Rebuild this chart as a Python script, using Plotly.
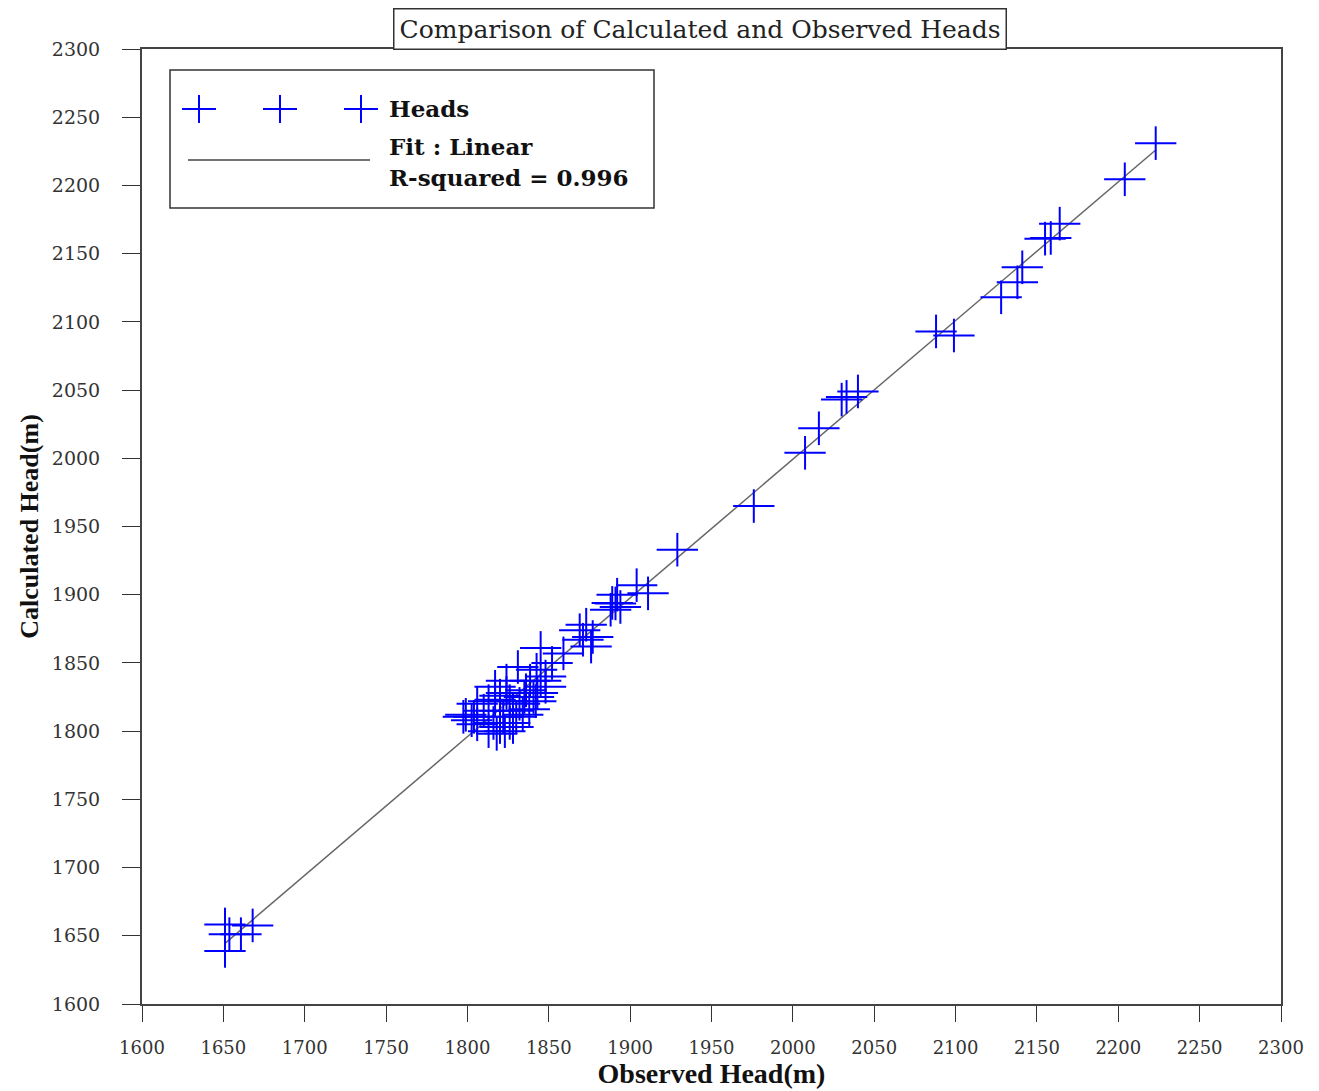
import numpy as np
import plotly.graph_objects as go

# Observed vs calculated heads (m)
observed = [
    2223, 2204, 2164, 2155, 2158.5, 2141, 2138, 2128, 2088, 2099,
    2040, 2033, 2030, 2016, 2007.5, 1976, 1929,
    1911, 1904, 1892, 1889, 1888, 1894, 1891,
    1873, 1877, 1871, 1869, 1876, 1859, 1852, 1845, 1842.5, 1845, 1848,
    1831, 1838.5, 1840.6,
    1824, 1824, 1817, 1817, 1820, 1822, 1828, 1832, 1835, 1830, 1826,
    1820, 1816, 1810, 1806, 1804, 1797.5, 1799, 1802.6,
    1806, 1813, 1818, 1823, 1828, 1834, 1838, 1843, 1842, 1813, 1820, 1826, 1836, 1848,
    1651, 1651, 1653.7, 1660.8, 1668,
]
calculated = [
    2231, 2204.5, 2172, 2161, 2161.5, 2140, 2129, 2118, 2093, 2090,
    2049, 2045, 2043, 2022, 2004, 1965, 1933,
    1901, 1907, 1900, 1894, 1889, 1891, 1893.6,
    1878, 1869, 1867, 1874, 1862, 1857, 1850, 1861, 1845, 1837, 1832.5,
    1847, 1837, 1825,
    1837, 1828, 1832.5, 1823, 1815, 1810.5, 1815, 1820, 1825, 1810.5, 1806,
    1803, 1806, 1815, 1820, 1810.5, 1810.5, 1812, 1808,
    1805, 1800, 1798, 1800, 1803, 1812, 1816, 1828, 1822, 1822, 1826, 1822, 1830, 1840,
    1658.3, 1638.9, 1651.2, 1651.2, 1657.6,
]

tick_vals = list(range(1600, 2301, 50))
title_text = "Comparison of Calculated and Observed Heads"
x_title = "Observed Head(m)"
y_title = "Calculated Head(m)"
legend_series = "Heads"
legend_fit = "Fit : Linear"
legend_r2 = "R-squared = 0.996"

obs = np.array(observed)
cal = np.array(calculated)
slope, intercept = np.polyfit(obs, cal, 1)
fit_x = np.array([obs.min(), obs.max()])
fit_y = slope * fit_x + intercept

BLUE = "#0000ff"
fig = go.Figure()
fig.add_trace(go.Scatter(x=fit_x, y=fit_y, mode="lines",
                         line=dict(color="#666666", width=1.5), showlegend=False))
fig.add_trace(go.Scatter(x=observed, y=calculated, mode="markers",
                         marker=dict(symbol="line-ew", size=29.5,
                                     line=dict(color=BLUE, width=2)),
                         showlegend=False))
fig.add_trace(go.Scatter(x=observed, y=calculated, mode="markers",
                         marker=dict(symbol="line-ns", size=24,
                                     line=dict(color=BLUE, width=2)),
                         showlegend=False))

axis_common = dict(
    range=[1600, 2300], tickvals=tick_vals, ticks="outside",
    showgrid=False, zeroline=False, showline=True, mirror=True,
    linecolor="#444444", linewidth=2, tickcolor="#333333",
    automargin=False,
)
fig.update_xaxes(**axis_common, ticklen=16, ticklabelstandoff=10,
                 tickfont=dict(family="DejaVu Serif", size=18, color="#333333"),
                 title=dict(text=f"<b>{x_title}</b>", standoff=4,
                            font=dict(family="Liberation Serif", size=28, color="#111111")))
fig.update_yaxes(**axis_common, ticklen=18, ticklabelstandoff=18,
                 tickfont=dict(family="DejaVu Serif", size=19, color="#333333"),
                 title=dict(text=f"<b>{y_title}</b>", standoff=6,
                            font=dict(family="Liberation Serif", size=26, color="#111111")))

# Manual legend box (paper coordinates)
W, H = 1139.0, 955.0
def px(xp):
    return (xp - 142) / W
def py(yp):
    return (1004 - yp) / H

shapes = [dict(type="rect", xref="paper", yref="paper",
               x0=px(170), x1=px(654), y0=py(208), y1=py(70),
               line=dict(color="#333333", width=1.5), fillcolor="white", layer="above")]
for cx in (199, 280, 361):
    shapes.append(dict(type="line", xref="paper", yref="paper",
                       x0=px(cx - 17), x1=px(cx + 17), y0=py(109), y1=py(109),
                       line=dict(color=BLUE, width=2), layer="above"))
    shapes.append(dict(type="line", xref="paper", yref="paper",
                       x0=px(cx), x1=px(cx), y0=py(95), y1=py(123),
                       line=dict(color=BLUE, width=2), layer="above"))
shapes.append(dict(type="line", xref="paper", yref="paper",
                   x0=px(188), x1=px(370), y0=py(160), y1=py(160),
                   line=dict(color="#444444", width=1.5), layer="above"))

leg_font = dict(family="DejaVu Serif", size=23, color="#111111")
annotations = [
    dict(text=f"<b>{legend_series}</b>", xref="paper", yref="paper",
         x=px(387), y=py(109), xanchor="left", yanchor="middle", showarrow=False, font=leg_font),
    dict(text=f"<b>{legend_fit}</b>", xref="paper", yref="paper",
         x=px(387), y=py(147), xanchor="left", yanchor="middle", showarrow=False, font=leg_font),
    dict(text=f"<b>{legend_r2}</b>", xref="paper", yref="paper",
         x=px(387), y=py(178), xanchor="left", yanchor="middle", showarrow=False, font=leg_font),
    dict(text=title_text, xref="paper", yref="paper",
         x=px(700), y=py(29), xanchor="center", yanchor="middle", showarrow=False,
         font=dict(family="DejaVu Serif", size=25, color="#222222"),
         bordercolor="#333333", borderwidth=1.5, borderpad=5, bgcolor="white"),
]

fig.update_layout(
    width=1319, height=1091,
    margin=dict(l=142, r=38, t=49, b=87),
    paper_bgcolor="white", plot_bgcolor="white",
    showlegend=False,
    shapes=shapes, annotations=annotations,
)

fig.write_html("out.html")
